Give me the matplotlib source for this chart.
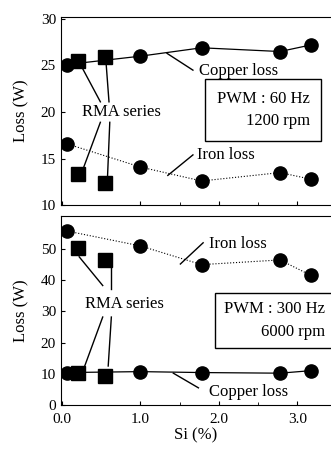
"""Copper and iron loss vs. Si content, two PWM conditions."""

import matplotlib
matplotlib.use('Agg')
import matplotlib.pyplot as plt

plt.rcParams['font.family'] = ['Liberation Serif', 'DejaVu Serif']

# --- data ---------------------------------------------------------------
si_circ = [0.06, 1.0, 1.78, 2.78, 3.17]
si_rma = [0.2, 0.55]

# PWM 60 Hz, 1200 rpm
cu60_circ = [25.1, 26.0, 26.9, 26.5, 27.2]
fe60_circ = [16.6, 14.1, 12.6, 13.5, 12.8]
cu60_rma = [25.5, 25.9]
fe60_rma = [13.4, 12.4]

# PWM 300 Hz, 6000 rpm
cu300_circ = [10.4, 10.7, 10.4, 10.2, 11.0]
fe300_circ = [55.8, 51.0, 45.0, 46.5, 41.6]
cu300_rma = [10.4, 9.2]
fe300_rma = [50.2, 46.5]

x_ticks = [0.0, 1.0, 2.0, 3.0]
x_ticklabels = ['0.0', '1.0', '2.0', '3.0']

FS = 11

fig = plt.figure(figsize=(3.31, 4.49), dpi=100)
ax1 = fig.add_axes([0.184, 0.543, 0.816, 0.419])
ax2 = fig.add_axes([0.184, 0.098, 0.816, 0.421])


def style(ax):
    ax.set_xlim(-0.013, 3.43)
    ax.spines['right'].set_visible(False)
    ax.tick_params(direction='in', labelsize=FS, length=3)
    ax.tick_params(axis='x', pad=6)
    ax.set_xticks(x_ticks)
    ax.set_xticks([1.5, 2.5], minor=True)
    ax.tick_params(which='minor', direction='in', length=2)
    ax.set_ylabel('Loss (W)', fontsize=FS + 1, labelpad=8)


def draw(ax, cu_c, fe_c, cu_r, fe_r):
    ax.plot(si_circ, cu_c, '-', color='black', lw=0.9)
    ax.plot(si_circ, fe_c, ':', color='black', lw=0.8)
    ax.plot(si_circ, cu_c, 'o', color='black', ms=9.5)
    ax.plot(si_circ, fe_c, 'o', color='black', ms=9.5)
    ax.plot(si_rma, cu_r, 's', color='black', ms=9.5)
    ax.plot(si_rma, fe_r, 's', color='black', ms=9.5)


def leader(ax, x0, y0, x1, y1):
    ax.plot([x0, x1], [y0, y1], '-', color='black', lw=1.0)


box = dict(boxstyle='square,pad=0.7', fc='white', ec='black', lw=1.0)

# --- top panel ----------------------------------------------------------
style(ax1)
draw(ax1, cu60_circ, fe60_circ, cu60_rma, fe60_rma)
ax1.set_ylim(10, 30.2)
ax1.set_yticks([10, 15, 20, 25, 30])
ax1.tick_params(axis='x', labelbottom=False)

ax1.text(1.75, 24.4, 'Copper loss', fontsize=FS + 1, ha='left', va='center')
leader(ax1, 1.34, 26.3, 1.67, 24.5)
ax1.text(0.25, 20.0, 'RMA series', fontsize=FS + 1, ha='left', va='center')
leader(ax1, 0.23, 25.2, 0.49, 21.1)
leader(ax1, 0.56, 25.6, 0.6, 21.1)
leader(ax1, 0.49, 18.9, 0.27, 13.9)
leader(ax1, 0.61, 18.9, 0.58, 12.8)
ax1.text(1.72, 15.4, 'Iron loss', fontsize=FS + 1, ha='left', va='center')
leader(ax1, 1.35, 13.2, 1.67, 15.4)
ax1.text(3.16, 20.2, 'PWM : 60 Hz\n1200 rpm', fontsize=FS + 1, ha='right',
         va='center', multialignment='right', linespacing=1.55, bbox=box)

# --- bottom panel -------------------------------------------------------
style(ax2)
draw(ax2, cu300_circ, fe300_circ, cu300_rma, fe300_rma)
ax2.set_ylim(0, 60.6)
ax2.set_yticks([0, 10, 20, 30, 40, 50])
ax2.set_xticklabels(x_ticklabels)
ax2.set_xlabel('Si (%)', fontsize=FS + 1, labelpad=1)

ax2.text(1.87, 51.5, 'Iron loss', fontsize=FS + 1, ha='left', va='center')
leader(ax2, 1.51, 45.2, 1.8, 52.0)
ax2.text(0.3, 32.3, 'RMA series', fontsize=FS + 1, ha='left', va='center')
leader(ax2, 0.22, 47.5, 0.52, 38.3)
leader(ax2, 0.62, 45.0, 0.62, 37.3)
leader(ax2, 0.52, 28.2, 0.26, 10.4)
leader(ax2, 0.63, 28.2, 0.59, 12.5)
ax2.text(1.87, 4.2, 'Copper loss', fontsize=FS + 1, ha='left', va='center')
leader(ax2, 1.42, 10.2, 1.74, 5.5)
ax2.text(3.35, 27.0, 'PWM : 300 Hz\n6000 rpm', fontsize=FS + 1, ha='right',
         va='center', multialignment='right', linespacing=1.55,
         bbox=dict(boxstyle='square,pad=0.5', fc='white', ec='black', lw=1.0))

fig.savefig('out.png', dpi=100)
